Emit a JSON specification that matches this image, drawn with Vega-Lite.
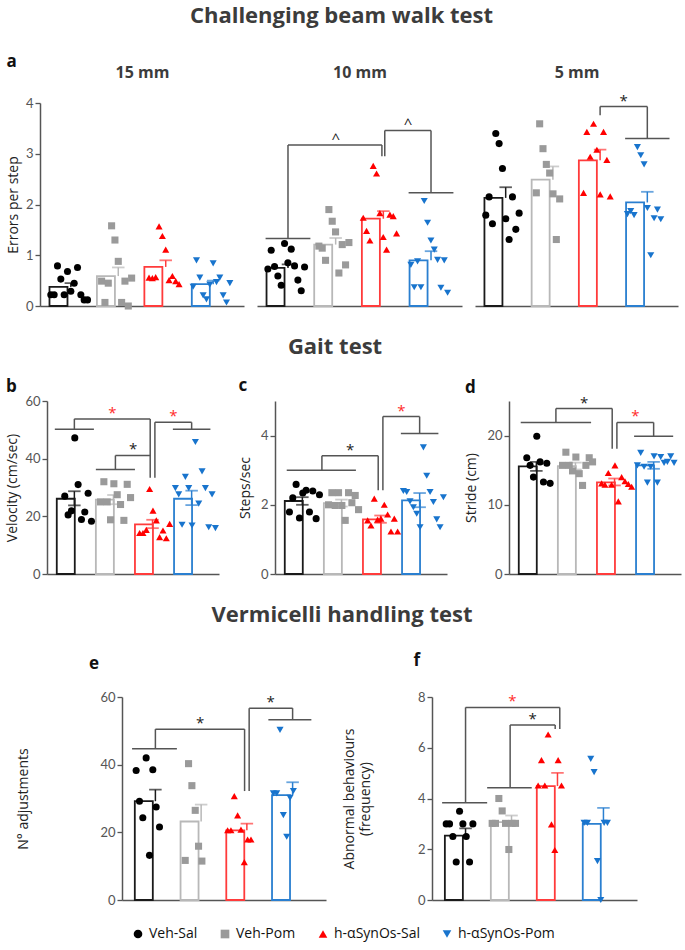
{
"$schema":"https://vega.github.io/schema/vega-lite/v6.json",
"padding":{"left":5,"right":2,"top":5,"bottom":5},
"datasets":{
"pts":[
{"p":"a15","g":"Veh-Sal","i":1,"v":0.22},{"p":"a15","g":"Veh-Sal","i":2,"v":0.22},{"p":"a15","g":"Veh-Sal","i":3,"v":0.79},{"p":"a15","g":"Veh-Sal","i":4,"v":0.53},{"p":"a15","g":"Veh-Sal","i":5,"v":0.22},{"p":"a15","g":"Veh-Sal","i":6,"v":0.68},{"p":"a15","g":"Veh-Sal","i":7,"v":0.29},{"p":"a15","g":"Veh-Sal","i":8,"v":0.45},{"p":"a15","g":"Veh-Sal","i":9,"v":0.76},{"p":"a15","g":"Veh-Sal","i":10,"v":0.22},{"p":"a15","g":"Veh-Sal","i":11,"v":0.12},{"p":"a15","g":"Veh-Sal","i":12,"v":0.12},
{"p":"a15","g":"Veh-Pom","i":2,"v":0.49},{"p":"a15","g":"Veh-Pom","i":3,"v":0.07},{"p":"a15","g":"Veh-Pom","i":4,"v":0.45},{"p":"a15","g":"Veh-Pom","i":5,"v":1.58},{"p":"a15","g":"Veh-Pom","i":6,"v":1.30},{"p":"a15","g":"Veh-Pom","i":7,"v":0.88},{"p":"a15","g":"Veh-Pom","i":8,"v":0.07},{"p":"a15","g":"Veh-Pom","i":9,"v":0.49},{"p":"a15","g":"Veh-Pom","i":10,"v":0.0},{"p":"a15","g":"Veh-Pom","i":11,"v":0.55},
{"p":"a15","g":"h-αSynOs-Sal","i":2,"v":0.56},{"p":"a15","g":"h-αSynOs-Sal","i":3,"v":0.55},{"p":"a15","g":"h-αSynOs-Sal","i":4,"v":0.57},{"p":"a15","g":"h-αSynOs-Sal","i":5,"v":1.57},{"p":"a15","g":"h-αSynOs-Sal","i":6,"v":1.38},{"p":"a15","g":"h-αSynOs-Sal","i":7,"v":1.11},{"p":"a15","g":"h-αSynOs-Sal","i":8,"v":0.51},{"p":"a15","g":"h-αSynOs-Sal","i":9,"v":0.59},{"p":"a15","g":"h-αSynOs-Sal","i":10,"v":0.49},{"p":"a15","g":"h-αSynOs-Sal","i":11,"v":0.43},
{"p":"a15","g":"h-αSynOs-Pom","i":1,"v":0.38},{"p":"a15","g":"h-αSynOs-Pom","i":2,"v":0.90},{"p":"a15","g":"h-αSynOs-Pom","i":3,"v":0.56},{"p":"a15","g":"h-αSynOs-Pom","i":4,"v":0.21},{"p":"a15","g":"h-αSynOs-Pom","i":5,"v":0.13},{"p":"a15","g":"h-αSynOs-Pom","i":6,"v":0.42},{"p":"a15","g":"h-αSynOs-Pom","i":7,"v":0.84},{"p":"a15","g":"h-αSynOs-Pom","i":8,"v":0.47},{"p":"a15","g":"h-αSynOs-Pom","i":9,"v":0.56},{"p":"a15","g":"h-αSynOs-Pom","i":10,"v":0.21},{"p":"a15","g":"h-αSynOs-Pom","i":11,"v":0.07},{"p":"a15","g":"h-αSynOs-Pom","i":12,"v":0.45},
{"p":"a10","g":"Veh-Sal","i":1,"v":0.73},{"p":"a10","g":"Veh-Sal","i":2,"v":1.10},{"p":"a10","g":"Veh-Sal","i":3,"v":0.78},{"p":"a10","g":"Veh-Sal","i":4,"v":0.59},{"p":"a10","g":"Veh-Sal","i":5,"v":0.41},{"p":"a10","g":"Veh-Sal","i":6,"v":1.23},{"p":"a10","g":"Veh-Sal","i":7,"v":0.85},{"p":"a10","g":"Veh-Sal","i":8,"v":1.12},{"p":"a10","g":"Veh-Sal","i":9,"v":0.79},{"p":"a10","g":"Veh-Sal","i":10,"v":0.51},{"p":"a10","g":"Veh-Sal","i":11,"v":0.30},{"p":"a10","g":"Veh-Sal","i":12,"v":0.77},
{"p":"a10","g":"Veh-Pom","i":2,"v":1.18},{"p":"a10","g":"Veh-Pom","i":3,"v":1.14},{"p":"a10","g":"Veh-Pom","i":4,"v":0.90},{"p":"a10","g":"Veh-Pom","i":5,"v":1.90},{"p":"a10","g":"Veh-Pom","i":6,"v":1.67},{"p":"a10","g":"Veh-Pom","i":7,"v":1.46},{"p":"a10","g":"Veh-Pom","i":8,"v":0.65},{"p":"a10","g":"Veh-Pom","i":9,"v":1.21},{"p":"a10","g":"Veh-Pom","i":10,"v":0.81},{"p":"a10","g":"Veh-Pom","i":11,"v":1.25},
{"p":"a10","g":"h-αSynOs-Sal","i":1,"v":1.74},{"p":"a10","g":"h-αSynOs-Sal","i":2,"v":1.48},{"p":"a10","g":"h-αSynOs-Sal","i":3,"v":1.29},{"p":"a10","g":"h-αSynOs-Sal","i":4,"v":2.76},{"p":"a10","g":"h-αSynOs-Sal","i":5,"v":2.61},{"p":"a10","g":"h-αSynOs-Sal","i":6,"v":1.83},{"p":"a10","g":"h-αSynOs-Sal","i":7,"v":1.36},{"p":"a10","g":"h-αSynOs-Sal","i":8,"v":1.11},{"p":"a10","g":"h-αSynOs-Sal","i":9,"v":1.80},{"p":"a10","g":"h-αSynOs-Sal","i":10,"v":1.77},{"p":"a10","g":"h-αSynOs-Sal","i":11,"v":1.43},
{"p":"a10","g":"h-αSynOs-Pom","i":1,"v":0.81},{"p":"a10","g":"h-αSynOs-Pom","i":2,"v":0.37},{"p":"a10","g":"h-αSynOs-Pom","i":3,"v":0.88},{"p":"a10","g":"h-αSynOs-Pom","i":4,"v":0.37},{"p":"a10","g":"h-αSynOs-Pom","i":5,"v":2.07},{"p":"a10","g":"h-αSynOs-Pom","i":6,"v":1.64},{"p":"a10","g":"h-αSynOs-Pom","i":7,"v":1.29},{"p":"a10","g":"h-αSynOs-Pom","i":8,"v":1.11},{"p":"a10","g":"h-αSynOs-Pom","i":9,"v":0.91},{"p":"a10","g":"h-αSynOs-Pom","i":10,"v":0.36},{"p":"a10","g":"h-αSynOs-Pom","i":11,"v":0.90},{"p":"a10","g":"h-αSynOs-Pom","i":12,"v":0.26},
{"p":"a5","g":"Veh-Sal","i":1,"v":1.79},{"p":"a5","g":"Veh-Sal","i":2,"v":2.15},{"p":"a5","g":"Veh-Sal","i":3,"v":1.62},{"p":"a5","g":"Veh-Sal","i":4,"v":3.40},{"p":"a5","g":"Veh-Sal","i":5,"v":3.20},{"p":"a5","g":"Veh-Sal","i":6,"v":2.71},{"p":"a5","g":"Veh-Sal","i":7,"v":1.72},{"p":"a5","g":"Veh-Sal","i":8,"v":1.31},{"p":"a5","g":"Veh-Sal","i":9,"v":2.15},{"p":"a5","g":"Veh-Sal","i":10,"v":1.51},{"p":"a5","g":"Veh-Sal","i":11,"v":1.83},
{"p":"a5","g":"Veh-Pom","i":2,"v":2.23},{"p":"a5","g":"Veh-Pom","i":3,"v":3.59},{"p":"a5","g":"Veh-Pom","i":4,"v":3.10},{"p":"a5","g":"Veh-Pom","i":5,"v":2.79},{"p":"a5","g":"Veh-Pom","i":6,"v":2.62},{"p":"a5","g":"Veh-Pom","i":7,"v":2.21},{"p":"a5","g":"Veh-Pom","i":8,"v":1.31},{"p":"a5","g":"Veh-Pom","i":9,"v":2.11},
{"p":"a5","g":"h-αSynOs-Sal","i":2,"v":2.23},{"p":"a5","g":"h-αSynOs-Sal","i":3,"v":3.43},{"p":"a5","g":"h-αSynOs-Sal","i":4,"v":2.94},{"p":"a5","g":"h-αSynOs-Sal","i":5,"v":3.59},{"p":"a5","g":"h-αSynOs-Sal","i":6,"v":3.08},{"p":"a5","g":"h-αSynOs-Sal","i":7,"v":2.20},{"p":"a5","g":"h-αSynOs-Sal","i":8,"v":3.43},{"p":"a5","g":"h-αSynOs-Sal","i":9,"v":2.88},{"p":"a5","g":"h-αSynOs-Sal","i":10,"v":2.16},
{"p":"a5","g":"h-αSynOs-Pom","i":1,"v":1.81},{"p":"a5","g":"h-αSynOs-Pom","i":2,"v":1.87},{"p":"a5","g":"h-αSynOs-Pom","i":3,"v":1.79},{"p":"a5","g":"h-αSynOs-Pom","i":4,"v":3.13},{"p":"a5","g":"h-αSynOs-Pom","i":5,"v":2.97},{"p":"a5","g":"h-αSynOs-Pom","i":6,"v":2.79},{"p":"a5","g":"h-αSynOs-Pom","i":7,"v":1.93},{"p":"a5","g":"h-αSynOs-Pom","i":8,"v":1.0},{"p":"a5","g":"h-αSynOs-Pom","i":9,"v":1.73},{"p":"a5","g":"h-αSynOs-Pom","i":10,"v":1.90},{"p":"a5","g":"h-αSynOs-Pom","i":11,"v":1.71},
{"p":"b","g":"Veh-Sal","i":3,"v":27.0},{"p":"b","g":"Veh-Sal","i":4,"v":20.5},{"p":"b","g":"Veh-Sal","i":5,"v":21.9},{"p":"b","g":"Veh-Sal","i":6,"v":47.2},{"p":"b","g":"Veh-Sal","i":7,"v":31.0},{"p":"b","g":"Veh-Sal","i":8,"v":18.9},{"p":"b","g":"Veh-Sal","i":9,"v":21.5},{"p":"b","g":"Veh-Sal","i":10,"v":28.0},{"p":"b","g":"Veh-Sal","i":11,"v":18.3},
{"p":"b","g":"Veh-Pom","i":2,"v":25.0},{"p":"b","g":"Veh-Pom","i":3,"v":32.0},{"p":"b","g":"Veh-Pom","i":4,"v":25.0},{"p":"b","g":"Veh-Pom","i":5,"v":18.8},{"p":"b","g":"Veh-Pom","i":6,"v":31.3},{"p":"b","g":"Veh-Pom","i":7,"v":27.5},{"p":"b","g":"Veh-Pom","i":8,"v":24.1},{"p":"b","g":"Veh-Pom","i":9,"v":18.6},{"p":"b","g":"Veh-Pom","i":10,"v":31.1},{"p":"b","g":"Veh-Pom","i":11,"v":26.5},
{"p":"b","g":"h-αSynOs-Sal","i":2,"v":14.2},{"p":"b","g":"h-αSynOs-Sal","i":3,"v":14.2},{"p":"b","g":"h-αSynOs-Sal","i":4,"v":15.3},{"p":"b","g":"h-αSynOs-Sal","i":5,"v":29.5},{"p":"b","g":"h-αSynOs-Sal","i":6,"v":22.0},{"p":"b","g":"h-αSynOs-Sal","i":7,"v":18.6},{"p":"b","g":"h-αSynOs-Sal","i":8,"v":12.8},{"p":"b","g":"h-αSynOs-Sal","i":9,"v":15.1},{"p":"b","g":"h-αSynOs-Sal","i":10,"v":12.4},{"p":"b","g":"h-αSynOs-Sal","i":11,"v":17.4},
{"p":"b","g":"h-αSynOs-Pom","i":1,"v":29.8},{"p":"b","g":"h-αSynOs-Pom","i":2,"v":27.6},{"p":"b","g":"h-αSynOs-Pom","i":3,"v":17.1},{"p":"b","g":"h-αSynOs-Pom","i":4,"v":33.7},{"p":"b","g":"h-αSynOs-Pom","i":5,"v":29.8},{"p":"b","g":"h-αSynOs-Pom","i":6,"v":16.8},{"p":"b","g":"h-αSynOs-Pom","i":7,"v":45.8},{"p":"b","g":"h-αSynOs-Pom","i":8,"v":24.4},{"p":"b","g":"h-αSynOs-Pom","i":9,"v":35.6},{"p":"b","g":"h-αSynOs-Pom","i":10,"v":29.8},{"p":"b","g":"h-αSynOs-Pom","i":11,"v":16.2},{"p":"b","g":"h-αSynOs-Pom","i":12,"v":27.6},{"p":"b","g":"h-αSynOs-Pom","i":13,"v":15.9},
{"p":"c","g":"Veh-Sal","i":2,"v":1.79},{"p":"c","g":"Veh-Sal","i":3,"v":2.20},{"p":"c","g":"Veh-Sal","i":4,"v":2.59},{"p":"c","g":"Veh-Sal","i":5,"v":1.62},{"p":"c","g":"Veh-Sal","i":6,"v":2.34},{"p":"c","g":"Veh-Sal","i":7,"v":2.42},{"p":"c","g":"Veh-Sal","i":8,"v":1.79},{"p":"c","g":"Veh-Sal","i":9,"v":2.40},{"p":"c","g":"Veh-Sal","i":10,"v":1.60},{"p":"c","g":"Veh-Sal","i":11,"v":2.29},
{"p":"c","g":"Veh-Pom","i":2,"v":2.00},{"p":"c","g":"Veh-Pom","i":3,"v":2.35},{"p":"c","g":"Veh-Pom","i":4,"v":1.98},{"p":"c","g":"Veh-Pom","i":5,"v":2.35},{"p":"c","g":"Veh-Pom","i":6,"v":1.98},{"p":"c","g":"Veh-Pom","i":7,"v":1.55},{"p":"c","g":"Veh-Pom","i":8,"v":2.35},{"p":"c","g":"Veh-Pom","i":9,"v":2.06},{"p":"c","g":"Veh-Pom","i":10,"v":2.27},{"p":"c","g":"Veh-Pom","i":11,"v":1.86},
{"p":"c","g":"h-αSynOs-Sal","i":2,"v":1.55},{"p":"c","g":"h-αSynOs-Sal","i":3,"v":1.40},{"p":"c","g":"h-αSynOs-Sal","i":4,"v":2.18},{"p":"c","g":"h-αSynOs-Sal","i":5,"v":1.57},{"p":"c","g":"h-αSynOs-Sal","i":6,"v":1.60},{"p":"c","g":"h-αSynOs-Sal","i":7,"v":2.00},{"p":"c","g":"h-αSynOs-Sal","i":8,"v":1.72},{"p":"c","g":"h-αSynOs-Sal","i":9,"v":1.23},{"p":"c","g":"h-αSynOs-Sal","i":10,"v":1.60},{"p":"c","g":"h-αSynOs-Sal","i":11,"v":1.23},
{"p":"c","g":"h-αSynOs-Pom","i":1,"v":2.40},{"p":"c","g":"h-αSynOs-Pom","i":2,"v":2.37},{"p":"c","g":"h-αSynOs-Pom","i":3,"v":2.10},{"p":"c","g":"h-αSynOs-Pom","i":4,"v":1.93},{"p":"c","g":"h-αSynOs-Pom","i":5,"v":1.74},{"p":"c","g":"h-αSynOs-Pom","i":6,"v":1.35},{"p":"c","g":"h-αSynOs-Pom","i":7,"v":3.66},{"p":"c","g":"h-αSynOs-Pom","i":8,"v":2.84},{"p":"c","g":"h-αSynOs-Pom","i":9,"v":2.37},{"p":"c","g":"h-αSynOs-Pom","i":10,"v":2.08},{"p":"c","g":"h-αSynOs-Pom","i":11,"v":1.58},{"p":"c","g":"h-αSynOs-Pom","i":12,"v":1.35},{"p":"c","g":"h-αSynOs-Pom","i":13,"v":2.22},
{"p":"d","g":"Veh-Sal","i":3,"v":16.8},{"p":"d","g":"Veh-Sal","i":4,"v":15.7},{"p":"d","g":"Veh-Sal","i":5,"v":14.0},{"p":"d","g":"Veh-Sal","i":6,"v":19.9},{"p":"d","g":"Veh-Sal","i":7,"v":16.2},{"p":"d","g":"Veh-Sal","i":8,"v":13.3},{"p":"d","g":"Veh-Sal","i":9,"v":16.0},{"p":"d","g":"Veh-Sal","i":10,"v":13.1},
{"p":"d","g":"Veh-Pom","i":2,"v":15.7},{"p":"d","g":"Veh-Pom","i":3,"v":17.6},{"p":"d","g":"Veh-Pom","i":4,"v":15.7},{"p":"d","g":"Veh-Pom","i":5,"v":14.9},{"p":"d","g":"Veh-Pom","i":6,"v":16.9},{"p":"d","g":"Veh-Pom","i":7,"v":14.5},{"p":"d","g":"Veh-Pom","i":8,"v":12.8},{"p":"d","g":"Veh-Pom","i":9,"v":15.7},{"p":"d","g":"Veh-Pom","i":10,"v":16.8},{"p":"d","g":"Veh-Pom","i":11,"v":16.2},
{"p":"d","g":"h-αSynOs-Sal","i":2,"v":13.1},{"p":"d","g":"h-αSynOs-Sal","i":3,"v":12.9},{"p":"d","g":"h-αSynOs-Sal","i":4,"v":14.6},{"p":"d","g":"h-αSynOs-Sal","i":5,"v":12.9},{"p":"d","g":"h-αSynOs-Sal","i":6,"v":15.7},{"p":"d","g":"h-αSynOs-Sal","i":7,"v":10.5},{"p":"d","g":"h-αSynOs-Sal","i":8,"v":14.0},{"p":"d","g":"h-αSynOs-Sal","i":9,"v":13.4},{"p":"d","g":"h-αSynOs-Sal","i":10,"v":13.0},{"p":"d","g":"h-αSynOs-Sal","i":11,"v":12.6},
{"p":"d","g":"h-αSynOs-Pom","i":1,"v":15.7},{"p":"d","g":"h-αSynOs-Pom","i":2,"v":17.5},{"p":"d","g":"h-αSynOs-Pom","i":3,"v":15.5},{"p":"d","g":"h-αSynOs-Pom","i":4,"v":13.2},{"p":"d","g":"h-αSynOs-Pom","i":5,"v":15.5},{"p":"d","g":"h-αSynOs-Pom","i":6,"v":17.0},{"p":"d","g":"h-αSynOs-Pom","i":7,"v":13.2},{"p":"d","g":"h-αSynOs-Pom","i":8,"v":16.9},{"p":"d","g":"h-αSynOs-Pom","i":9,"v":16.05},{"p":"d","g":"h-αSynOs-Pom","i":10,"v":16.2},{"p":"d","g":"h-αSynOs-Pom","i":11,"v":17.0},{"p":"d","g":"h-αSynOs-Pom","i":12,"v":16.05},
{"p":"e","g":"Veh-Sal","i":1,"v":38.3},{"p":"e","g":"Veh-Sal","i":2,"v":29.2},{"p":"e","g":"Veh-Sal","i":3,"v":24.3},{"p":"e","g":"Veh-Sal","i":4,"v":42.0},{"p":"e","g":"Veh-Sal","i":5,"v":13.2},{"p":"e","g":"Veh-Sal","i":6,"v":38.5},{"p":"e","g":"Veh-Sal","i":7,"v":27.5},{"p":"e","g":"Veh-Sal","i":8,"v":21.6},
{"p":"e","g":"Veh-Pom","i":2,"v":11.7},{"p":"e","g":"Veh-Pom","i":3,"v":40.3},{"p":"e","g":"Veh-Pom","i":4,"v":33.8},{"p":"e","g":"Veh-Pom","i":5,"v":26.5},{"p":"e","g":"Veh-Pom","i":6,"v":15.9},{"p":"e","g":"Veh-Pom","i":7,"v":11.5},
{"p":"e","g":"h-αSynOs-Sal","i":1,"v":20.6},{"p":"e","g":"h-αSynOs-Sal","i":2,"v":20.6},{"p":"e","g":"h-αSynOs-Sal","i":3,"v":30.7},{"p":"e","g":"h-αSynOs-Sal","i":4,"v":25.0},{"p":"e","g":"h-αSynOs-Sal","i":5,"v":20.8},{"p":"e","g":"h-αSynOs-Sal","i":6,"v":11.2},{"p":"e","g":"h-αSynOs-Sal","i":7,"v":17.9},{"p":"e","g":"h-αSynOs-Sal","i":8,"v":17.9},
{"p":"e","g":"h-αSynOs-Pom","i":1,"v":31.5},{"p":"e","g":"h-αSynOs-Pom","i":2,"v":31.5},{"p":"e","g":"h-αSynOs-Pom","i":3,"v":50.3},{"p":"e","g":"h-αSynOs-Pom","i":4,"v":25.1},{"p":"e","g":"h-αSynOs-Pom","i":5,"v":18.7},{"p":"e","g":"h-αSynOs-Pom","i":6,"v":30.2},{"p":"e","g":"h-αSynOs-Pom","i":7,"v":32.2},
{"p":"f","g":"Veh-Sal","i":1,"v":3.0},{"p":"f","g":"Veh-Sal","i":2,"v":3.0},{"p":"f","g":"Veh-Sal","i":3,"v":2.5},{"p":"f","g":"Veh-Sal","i":4,"v":1.5},{"p":"f","g":"Veh-Sal","i":5,"v":3.5},{"p":"f","g":"Veh-Sal","i":6,"v":3.0},{"p":"f","g":"Veh-Sal","i":7,"v":2.5},{"p":"f","g":"Veh-Sal","i":8,"v":1.5},{"p":"f","g":"Veh-Sal","i":9,"v":3.0},
{"p":"f","g":"Veh-Pom","i":1,"v":3.02},{"p":"f","g":"Veh-Pom","i":2,"v":3.02},{"p":"f","g":"Veh-Pom","i":3,"v":4.0},{"p":"f","g":"Veh-Pom","i":4,"v":3.51},{"p":"f","g":"Veh-Pom","i":5,"v":3.02},{"p":"f","g":"Veh-Pom","i":6,"v":1.99},{"p":"f","g":"Veh-Pom","i":7,"v":3.02},{"p":"f","g":"Veh-Pom","i":8,"v":3.02},
{"p":"f","g":"h-αSynOs-Sal","i":1,"v":4.51},{"p":"f","g":"h-αSynOs-Sal","i":2,"v":5.51},{"p":"f","g":"h-αSynOs-Sal","i":3,"v":4.51},{"p":"f","g":"h-αSynOs-Sal","i":4,"v":6.52},{"p":"f","g":"h-αSynOs-Sal","i":5,"v":2.98},{"p":"f","g":"h-αSynOs-Sal","i":6,"v":1.97},{"p":"f","g":"h-αSynOs-Sal","i":7,"v":5.51},{"p":"f","g":"h-αSynOs-Sal","i":8,"v":4.51},
{"p":"f","g":"h-αSynOs-Pom","i":1,"v":3.04},{"p":"f","g":"h-αSynOs-Pom","i":2,"v":3.04},{"p":"f","g":"h-αSynOs-Pom","i":3,"v":5.56},{"p":"f","g":"h-αSynOs-Pom","i":4,"v":5.04},{"p":"f","g":"h-αSynOs-Pom","i":5,"v":1.53},{"p":"f","g":"h-αSynOs-Pom","i":6,"v":0.0},{"p":"f","g":"h-αSynOs-Pom","i":7,"v":3.04},{"p":"f","g":"h-αSynOs-Pom","i":8,"v":3.04}
],
"bars":[
{"p":"a15","g":"Veh-Sal","m":0.375,"lo":0.375,"hi":0.45},{"p":"a15","g":"Veh-Pom","m":0.59,"lo":0.59,"hi":0.76},{"p":"a15","g":"h-αSynOs-Sal","m":0.77,"lo":0.77,"hi":0.90},{"p":"a15","g":"h-αSynOs-Pom","m":0.43,"lo":0.43,"hi":0.50},
{"p":"a10","g":"Veh-Sal","m":0.75,"lo":0.75,"hi":0.82},{"p":"a10","g":"Veh-Pom","m":1.21,"lo":1.21,"hi":1.34},{"p":"a10","g":"h-αSynOs-Sal","m":1.72,"lo":1.72,"hi":1.87},{"p":"a10","g":"h-αSynOs-Pom","m":0.90,"lo":0.90,"hi":1.08},
{"p":"a5","g":"Veh-Sal","m":2.13,"lo":2.13,"hi":2.34},{"p":"a5","g":"Veh-Pom","m":2.49,"lo":2.49,"hi":2.75},{"p":"a5","g":"h-αSynOs-Sal","m":2.87,"lo":2.87,"hi":3.08},{"p":"a5","g":"h-αSynOs-Pom","m":2.04,"lo":2.04,"hi":2.25},
{"p":"b","g":"Veh-Sal","m":26.1,"lo":23.8,"hi":28.7},{"p":"b","g":"Veh-Pom","m":25.8,"lo":24.2,"hi":27.4},{"p":"b","g":"h-αSynOs-Sal","m":17.2,"lo":15.9,"hi":18.8},{"p":"b","g":"h-αSynOs-Pom","m":26.1,"lo":23.9,"hi":28.9},
{"p":"c","g":"Veh-Sal","m":2.11,"lo":2.00,"hi":2.22},{"p":"c","g":"Veh-Pom","m":2.05,"lo":1.95,"hi":2.15},{"p":"c","g":"h-αSynOs-Sal","m":1.58,"lo":1.48,"hi":1.69},{"p":"c","g":"h-αSynOs-Pom","m":2.13,"lo":1.93,"hi":2.34},
{"p":"d","g":"Veh-Sal","m":15.55,"lo":14.9,"hi":16.2},{"p":"d","g":"Veh-Pom","m":15.6,"lo":15.1,"hi":16.1},{"p":"d","g":"h-αSynOs-Sal","m":13.25,"lo":12.8,"hi":13.8},{"p":"d","g":"h-αSynOs-Pom","m":15.7,"lo":15.2,"hi":16.2},
{"p":"e","g":"Veh-Sal","m":29.2,"lo":29.2,"hi":32.6},{"p":"e","g":"Veh-Pom","m":23.2,"lo":23.2,"hi":28.2},{"p":"e","g":"h-αSynOs-Sal","m":20.6,"lo":20.6,"hi":22.6},{"p":"e","g":"h-αSynOs-Pom","m":31.0,"lo":31.0,"hi":34.8},
{"p":"f","g":"Veh-Sal","m":2.54,"lo":2.54,"hi":2.82},{"p":"f","g":"Veh-Pom","m":3.07,"lo":3.07,"hi":3.33},{"p":"f","g":"h-αSynOs-Sal","m":4.49,"lo":4.49,"hi":5.01},{"p":"f","g":"h-αSynOs-Pom","m":3.0,"lo":3.0,"hi":3.63}
],
"br":[
{"p":"a10","x":0.53,"x2":1.47,"y":1.33,"y2":1.33},{"p":"a10","x":1,"x2":1,"y":1.33,"y2":3.17},{"p":"a10","x":1,"x2":2.97,"y":3.17,"y2":3.17},{"p":"a10","x":2.97,"x2":2.97,"y":3.17,"y2":2.95},
{"p":"a10","x":3.03,"x2":3.03,"y":2.95,"y2":3.46},{"p":"a10","x":3.03,"x2":4,"y":3.46,"y2":3.46},{"p":"a10","x":4,"x2":4,"y":3.46,"y2":2.23},{"p":"a10","x":3.53,"x2":4.47,"y":2.23,"y2":2.23},
{"p":"a5","x":3,"x2":3,"y":3.76,"y2":3.93},{"p":"a5","x":3,"x2":4,"y":3.93,"y2":3.93},{"p":"a5","x":4,"x2":4,"y":3.93,"y2":3.30},{"p":"a5","x":3.53,"x2":4.47,"y":3.30,"y2":3.30},
{"p":"b","x":0.5,"x2":1.5,"y":50.2,"y2":50.2},{"p":"b","x":1,"x2":1,"y":50.2,"y2":53.8},{"p":"b","x":1,"x2":2.94,"y":53.8,"y2":53.8},{"p":"b","x":2.94,"x2":2.94,"y":53.8,"y2":33.4},
{"p":"b","x":1.55,"x2":2.55,"y":36.2,"y2":36.2},{"p":"b","x":2.05,"x2":2.05,"y":36.2,"y2":41.1},{"p":"b","x":2.05,"x2":2.94,"y":41.1,"y2":41.1},
{"p":"b","x":3.06,"x2":3.06,"y":33.4,"y2":52.6},{"p":"b","x":3.06,"x2":4,"y":52.6,"y2":52.6},{"p":"b","x":4,"x2":4,"y":52.6,"y2":50.2},{"p":"b","x":3.52,"x2":4.48,"y":50.2,"y2":50.2},
{"p":"c","x":0.6,"x2":2.37,"y":3.0,"y2":3.0},{"p":"c","x":1.5,"x2":1.5,"y":3.0,"y2":3.42},{"p":"c","x":1.5,"x2":2.94,"y":3.42,"y2":3.42},{"p":"c","x":2.94,"x2":2.94,"y":3.42,"y2":2.42},
{"p":"c","x":3.06,"x2":3.06,"y":2.42,"y2":4.55},{"p":"c","x":3.06,"x2":4,"y":4.55,"y2":4.55},{"p":"c","x":4,"x2":4,"y":4.55,"y2":4.06},{"p":"c","x":3.52,"x2":4.48,"y":4.06,"y2":4.06},
{"p":"d","x":0.6,"x2":2.4,"y":21.9,"y2":21.9},{"p":"d","x":1.5,"x2":1.5,"y":21.9,"y2":23.9},{"p":"d","x":1.5,"x2":2.94,"y":23.9,"y2":23.9},{"p":"d","x":2.94,"x2":2.94,"y":23.9,"y2":18.1},
{"p":"d","x":3.06,"x2":3.06,"y":18.1,"y2":21.9},{"p":"d","x":3.06,"x2":4,"y":21.9,"y2":21.9},{"p":"d","x":4,"x2":4,"y":21.9,"y2":19.9},{"p":"d","x":3.5,"x2":4.5,"y":19.9,"y2":19.9},
{"p":"e","x":0.49,"x2":1.47,"y":44.7,"y2":44.7},{"p":"e","x":1,"x2":1,"y":44.7,"y2":50.5},{"p":"e","x":1,"x2":2.95,"y":50.5,"y2":50.5},{"p":"e","x":2.95,"x2":2.95,"y":50.5,"y2":32.2},
{"p":"e","x":3.05,"x2":3.05,"y":32.2,"y2":56.7},{"p":"e","x":3.05,"x2":4,"y":56.7,"y2":56.7},{"p":"e","x":4,"x2":4,"y":56.7,"y2":53.3},{"p":"e","x":3.47,"x2":4.41,"y":53.3,"y2":53.3},
{"p":"f","x":0.49,"x2":1.47,"y":3.83,"y2":3.83},{"p":"f","x":1,"x2":1,"y":3.83,"y2":7.59},{"p":"f","x":1,"x2":3.05,"y":7.59,"y2":7.59},{"p":"f","x":3.05,"x2":3.05,"y":7.59,"y2":6.74},
{"p":"f","x":1.47,"x2":2.44,"y":4.42,"y2":4.42},{"p":"f","x":1.97,"x2":1.97,"y":4.42,"y2":6.90},{"p":"f","x":1.97,"x2":2.95,"y":6.90,"y2":6.90},{"p":"f","x":2.95,"x2":2.95,"y":6.90,"y2":6.74}
],
"st":[
{"p":"a10","x":2.0,"y":3.17,"s":"^","k":"k1"},{"p":"a10","x":3.52,"y":3.46,"s":"^","k":"k1"},
{"p":"a5","x":3.5,"y":3.93,"s":"*","k":"k1"},
{"p":"b","x":1.97,"y":53.8,"s":"*","k":"k2"},{"p":"b","x":2.5,"y":41.1,"s":"*","k":"k1"},{"p":"b","x":3.53,"y":52.6,"s":"*","k":"k2"},
{"p":"c","x":2.22,"y":3.42,"s":"*","k":"k1"},{"p":"c","x":3.53,"y":4.55,"s":"*","k":"k2"},
{"p":"d","x":2.22,"y":23.9,"s":"*","k":"k1"},{"p":"d","x":3.53,"y":21.9,"s":"*","k":"k2"},
{"p":"e","x":1.98,"y":50.5,"s":"*","k":"k1"},{"p":"e","x":3.52,"y":56.7,"s":"*","k":"k1"},
{"p":"f","x":2.02,"y":7.59,"s":"*","k":"k2"},{"p":"f","x":2.46,"y":6.90,"s":"*","k":"k1"}
]
},
"vconcat":[
{"title":{"text":"Challenging beam walk test","fontSize":22,"fontWeight":"bold","color":"#3c3c3c","anchor":"middle","offset":25},
 "hconcat":[
 {"width":35,"height":1,"data":{"values":[]},"mark":{"type":"point","opacity":0}},
 {"title":{"text":"a","fontSize":17,"fontWeight":"bold","color":"#111","anchor":"start","offset":-7},
  "hconcat":[
  {"width":204,"height":203,
   "layer":[
    {"layer":[
     {"data":{"name":"bars"},"transform":[{"filter":"datum.p==='a15'"}],"mark":{"type":"bar","fill":"white","strokeWidth":1.8},
      "encoding":{"x":{"field":"g","type":"nominal","scale":{"domain":["Veh-Sal","Veh-Pom","h-αSynOs-Sal","h-αSynOs-Pom"],"paddingInner":0.1,"paddingOuter":0.2},"axis":{"labels":false,"ticks":false,"title":null}},
       "y":{"field":"m","type":"quantitative","scale":{"domain":[0,4],"nice":false},"axis":{"title":"Errors per step","values":[0,1,2,3,4],"format":"d","titlePadding":5}},
       "stroke":{"field":"g","type":"nominal","scale":{"domain":["Veh-Sal","Veh-Pom","h-αSynOs-Sal","h-αSynOs-Pom"],"range":["#1a1a1a","#b8b8b8","#ff3b3b","#2a7fd0"]}}}},
     {"data":{"name":"bars"},"transform":[{"filter":"datum.p==='a15'"}],"mark":{"type":"rule","strokeWidth":1.5},
      "encoding":{"x":{"field":"g","type":"nominal"},"y":{"field":"lo","type":"quantitative"},"y2":{"field":"hi"},"stroke":{"field":"g","type":"nominal"}}},
     {"data":{"name":"bars"},"transform":[{"filter":"datum.p==='a15'"}],"mark":{"type":"tick","filled":false,"thickness":0.3,"size":11,"strokeWidth":1.5},
      "encoding":{"x":{"field":"g","type":"nominal"},"y":{"field":"hi","type":"quantitative"},"stroke":{"field":"g","type":"nominal"}}},
     {"data":{"name":"pts"},"transform":[{"filter":"datum.p==='a15'"}],"mark":{"type":"point","filled":true,"size":50,"opacity":1},
      "encoding":{"x":{"field":"g","type":"nominal"},"xOffset":{"field":"i","type":"ordinal","scale":{"paddingOuter":0.4}},"y":{"field":"v","type":"quantitative"},
       "color":{"field":"g","type":"nominal","scale":{"domain":["Veh-Sal","Veh-Pom","h-αSynOs-Sal","h-αSynOs-Pom"],"range":["#000000","#9a9a9a","#ff0000","#1874cd"]},"legend":{"orient":"bottom","offset":20,"direction":"horizontal","title":null,"labelFontSize":14,"labelColor":"#111","symbolSize":75,"symbolStrokeWidth":0,"columnPadding":20}},
       "shape":{"field":"g","type":"nominal","scale":{"domain":["Veh-Sal","Veh-Pom","h-αSynOs-Sal","h-αSynOs-Pom"],"range":["circle","square","triangle-up","triangle-down"]}}}}
    ]},
    {"layer":[
     {"data":{"name":"br"},"transform":[{"filter":"datum.p==='a15'"}],"mark":{"type":"rule","color":"#555555","strokeWidth":1.5},
      "encoding":{"x":{"field":"x","type":"quantitative","scale":{"domain":[0.35,4.65],"nice":false,"zero":false},"axis":{"orient":"top","title":"15 mm","labels":false,"ticks":false,"domain":false,"titleFontSize":16,"titleFontWeight":"bold","titleColor":"#3c3c3c","titlePadding":23}},"x2":{"field":"x2"},"y":{"field":"y","type":"quantitative"},"y2":{"field":"y2"}}}
    ]}
   ],"resolve":{"scale":{"x":"independent"}}},
  {"width":205,"height":203,
   "layer":[
    {"layer":[
     {"data":{"name":"bars"},"transform":[{"filter":"datum.p==='a10'"}],"mark":{"type":"bar","fill":"white","strokeWidth":1.8},
      "encoding":{"x":{"field":"g","type":"nominal","scale":{"domain":["Veh-Sal","Veh-Pom","h-αSynOs-Sal","h-αSynOs-Pom"],"paddingInner":0.1,"paddingOuter":0.2},"axis":{"labels":false,"ticks":false,"title":null}},
       "y":{"field":"m","type":"quantitative","scale":{"domain":[0,4],"nice":false},"axis":null},
       "stroke":{"field":"g","type":"nominal"}}},
     {"data":{"name":"bars"},"transform":[{"filter":"datum.p==='a10'"}],"mark":{"type":"rule","strokeWidth":1.5},
      "encoding":{"x":{"field":"g","type":"nominal"},"y":{"field":"lo","type":"quantitative"},"y2":{"field":"hi"},"stroke":{"field":"g","type":"nominal"}}},
     {"data":{"name":"bars"},"transform":[{"filter":"datum.p==='a10'"}],"mark":{"type":"tick","filled":false,"thickness":0.3,"size":11,"strokeWidth":1.5},
      "encoding":{"x":{"field":"g","type":"nominal"},"y":{"field":"hi","type":"quantitative"},"stroke":{"field":"g","type":"nominal"}}},
     {"data":{"name":"pts"},"transform":[{"filter":"datum.p==='a10'"}],"mark":{"type":"point","filled":true,"size":50,"opacity":1},
      "encoding":{"x":{"field":"g","type":"nominal"},"xOffset":{"field":"i","type":"ordinal","scale":{"paddingOuter":0.4}},"y":{"field":"v","type":"quantitative"},
       "color":{"field":"g","type":"nominal"},"shape":{"field":"g","type":"nominal"}}}
    ]},
    {"layer":[
     {"data":{"name":"br"},"transform":[{"filter":"datum.p==='a10'"}],"mark":{"type":"rule","color":"#555555","strokeWidth":1.5},
      "encoding":{"x":{"field":"x","type":"quantitative","scale":{"domain":[0.35,4.65],"nice":false,"zero":false},"axis":{"orient":"top","title":"10 mm","labels":false,"ticks":false,"domain":false,"titleFontSize":16,"titleFontWeight":"bold","titleColor":"#3c3c3c","titlePadding":23}},"x2":{"field":"x2"},"y":{"field":"y","type":"quantitative"},"y2":{"field":"y2"}}},
     {"data":{"name":"st"},"transform":[{"filter":"datum.p==='a10'"}],"mark":{"type":"text","baseline":"alphabetic","dy":-1,"fontSize":15},
      "encoding":{"x":{"field":"x","type":"quantitative"},"y":{"field":"y","type":"quantitative"},"text":{"field":"s"},"fill":{"field":"k","type":"nominal","scale":{"domain":["k1","k2"],"range":["#222222","#ff2a2a"]},"legend":null}}}
    ]}
   ],"resolve":{"scale":{"x":"independent"}}},
  {"width":203,"height":203,
   "layer":[
    {"layer":[
     {"data":{"name":"bars"},"transform":[{"filter":"datum.p==='a5'"}],"mark":{"type":"bar","fill":"white","strokeWidth":1.8},
      "encoding":{"x":{"field":"g","type":"nominal","scale":{"domain":["Veh-Sal","Veh-Pom","h-αSynOs-Sal","h-αSynOs-Pom"],"paddingInner":0.1,"paddingOuter":0.2},"axis":{"labels":false,"ticks":false,"title":null}},
       "y":{"field":"m","type":"quantitative","scale":{"domain":[0,4],"nice":false},"axis":null},
       "stroke":{"field":"g","type":"nominal"}}},
     {"data":{"name":"bars"},"transform":[{"filter":"datum.p==='a5'"}],"mark":{"type":"rule","strokeWidth":1.5},
      "encoding":{"x":{"field":"g","type":"nominal"},"y":{"field":"lo","type":"quantitative"},"y2":{"field":"hi"},"stroke":{"field":"g","type":"nominal"}}},
     {"data":{"name":"bars"},"transform":[{"filter":"datum.p==='a5'"}],"mark":{"type":"tick","filled":false,"thickness":0.3,"size":11,"strokeWidth":1.5},
      "encoding":{"x":{"field":"g","type":"nominal"},"y":{"field":"hi","type":"quantitative"},"stroke":{"field":"g","type":"nominal"}}},
     {"data":{"name":"pts"},"transform":[{"filter":"datum.p==='a5'"}],"mark":{"type":"point","filled":true,"size":50,"opacity":1},
      "encoding":{"x":{"field":"g","type":"nominal"},"xOffset":{"field":"i","type":"ordinal","scale":{"paddingOuter":0.4}},"y":{"field":"v","type":"quantitative"},
       "color":{"field":"g","type":"nominal"},"shape":{"field":"g","type":"nominal"}}}
    ]},
    {"layer":[
     {"data":{"name":"br"},"transform":[{"filter":"datum.p==='a5'"}],"mark":{"type":"rule","color":"#555555","strokeWidth":1.5},
      "encoding":{"x":{"field":"x","type":"quantitative","scale":{"domain":[0.35,4.65],"nice":false,"zero":false},"axis":{"orient":"top","title":"5 mm","labels":false,"ticks":false,"domain":false,"titleFontSize":16,"titleFontWeight":"bold","titleColor":"#3c3c3c","titlePadding":23}},"x2":{"field":"x2"},"y":{"field":"y","type":"quantitative"},"y2":{"field":"y2"}}},
     {"data":{"name":"st"},"transform":[{"filter":"datum.p==='a5'"}],"mark":{"type":"text","baseline":"alphabetic","dy":-1,"fontSize":15},
      "encoding":{"x":{"field":"x","type":"quantitative"},"y":{"field":"y","type":"quantitative"},"text":{"field":"s"},"fill":{"field":"k","type":"nominal","legend":null}}}
    ]}
   ],"resolve":{"scale":{"x":"independent"}}}
  ],"spacing":13,"bounds":"flush"}
 ],"spacing":0,"bounds":"flush"},
{"title":{"text":"Gait test","fontSize":22,"fontWeight":"bold","color":"#3c3c3c","anchor":"middle","offset":18,"dx":-8},
 "hconcat":[
 {"width":42,"height":1,"data":{"values":[]},"mark":{"type":"point","opacity":0}},
 {"hconcat":[
  {"width":172,"height":173,"title":{"text":"b","fontSize":17,"fontWeight":"bold","color":"#111","anchor":"start","offset":-1},
   "layer":[
    {"layer":[
     {"data":{"name":"bars"},"transform":[{"filter":"datum.p==='b'"}],"mark":{"type":"bar","fill":"white","strokeWidth":1.8},
      "encoding":{"x":{"field":"g","type":"nominal","scale":{"domain":["Veh-Sal","Veh-Pom","h-αSynOs-Sal","h-αSynOs-Pom"],"paddingInner":0.1,"paddingOuter":0.25},"axis":{"labels":false,"ticks":false,"title":null}},
       "y":{"field":"m","type":"quantitative","scale":{"domain":[0,60],"nice":false},"axis":{"title":"Velocity (cm/sec)","values":[0,20,40,60],"titlePadding":5}},
       "stroke":{"field":"g","type":"nominal"}}},
     {"data":{"name":"bars"},"transform":[{"filter":"datum.p==='b'"}],"mark":{"type":"rule","strokeWidth":1.5},
      "encoding":{"x":{"field":"g","type":"nominal"},"y":{"field":"lo","type":"quantitative"},"y2":{"field":"hi"},"stroke":{"field":"g","type":"nominal"}}},
     {"data":{"name":"bars"},"transform":[{"filter":"datum.p==='b'"}],"mark":{"type":"tick","filled":false,"thickness":0.3,"size":11,"strokeWidth":1.5},
      "encoding":{"x":{"field":"g","type":"nominal"},"y":{"field":"hi","type":"quantitative"},"stroke":{"field":"g","type":"nominal"}}},
     {"data":{"name":"bars"},"transform":[{"filter":"datum.p==='b'"}],"mark":{"type":"tick","filled":false,"thickness":0.3,"size":11,"strokeWidth":1.5},
      "encoding":{"x":{"field":"g","type":"nominal"},"y":{"field":"lo","type":"quantitative"},"stroke":{"field":"g","type":"nominal"}}},
     {"data":{"name":"pts"},"transform":[{"filter":"datum.p==='b'"}],"mark":{"type":"point","filled":true,"size":50,"opacity":1},
      "encoding":{"x":{"field":"g","type":"nominal"},"xOffset":{"field":"i","type":"ordinal","scale":{"paddingOuter":0.4}},"y":{"field":"v","type":"quantitative"},
       "color":{"field":"g","type":"nominal"},"shape":{"field":"g","type":"nominal"}}}
    ]},
    {"layer":[
     {"data":{"name":"br"},"transform":[{"filter":"datum.p==='b'"}],"mark":{"type":"rule","color":"#555555","strokeWidth":1.5},
      "encoding":{"x":{"field":"x","type":"quantitative","scale":{"domain":[0.3,4.7],"nice":false,"zero":false},"axis":null},"x2":{"field":"x2"},"y":{"field":"y","type":"quantitative"},"y2":{"field":"y2"}}},
     {"data":{"name":"st"},"transform":[{"filter":"datum.p==='b'"}],"mark":{"type":"text","baseline":"alphabetic","dy":-1,"fontSize":15},
      "encoding":{"x":{"field":"x","type":"quantitative"},"y":{"field":"y","type":"quantitative"},"text":{"field":"s"},"fill":{"field":"k","type":"nominal","legend":null}}}
    ]}
   ],"resolve":{"scale":{"x":"independent"}}},
  {"hconcat":[
  {"width":172,"height":173,"title":{"text":"c","fontSize":17,"fontWeight":"bold","color":"#111","anchor":"start","offset":6},
   "layer":[
    {"layer":[
     {"data":{"name":"bars"},"transform":[{"filter":"datum.p==='c'"}],"mark":{"type":"bar","fill":"white","strokeWidth":1.8},
      "encoding":{"x":{"field":"g","type":"nominal","scale":{"domain":["Veh-Sal","Veh-Pom","h-αSynOs-Sal","h-αSynOs-Pom"],"paddingInner":0.1,"paddingOuter":0.25},"axis":{"labels":false,"ticks":false,"title":null}},
       "y":{"field":"m","type":"quantitative","scale":{"domain":[0,5],"nice":false},"axis":{"title":"Steps/sec","values":[0,1,2,3,4,5],"titlePadding":8}},
       "stroke":{"field":"g","type":"nominal"}}},
     {"data":{"name":"bars"},"transform":[{"filter":"datum.p==='c'"}],"mark":{"type":"rule","strokeWidth":1.5},
      "encoding":{"x":{"field":"g","type":"nominal"},"y":{"field":"lo","type":"quantitative"},"y2":{"field":"hi"},"stroke":{"field":"g","type":"nominal"}}},
     {"data":{"name":"bars"},"transform":[{"filter":"datum.p==='c'"}],"mark":{"type":"tick","filled":false,"thickness":0.3,"size":11,"strokeWidth":1.5},
      "encoding":{"x":{"field":"g","type":"nominal"},"y":{"field":"hi","type":"quantitative"},"stroke":{"field":"g","type":"nominal"}}},
     {"data":{"name":"bars"},"transform":[{"filter":"datum.p==='c'"}],"mark":{"type":"tick","filled":false,"thickness":0.3,"size":11,"strokeWidth":1.5},
      "encoding":{"x":{"field":"g","type":"nominal"},"y":{"field":"lo","type":"quantitative"},"stroke":{"field":"g","type":"nominal"}}},
     {"data":{"name":"pts"},"transform":[{"filter":"datum.p==='c'"}],"mark":{"type":"point","filled":true,"size":50,"opacity":1},
      "encoding":{"x":{"field":"g","type":"nominal"},"xOffset":{"field":"i","type":"ordinal","scale":{"paddingOuter":0.4}},"y":{"field":"v","type":"quantitative"},
       "color":{"field":"g","type":"nominal"},"shape":{"field":"g","type":"nominal"}}}
    ]},
    {"layer":[
     {"data":{"name":"br"},"transform":[{"filter":"datum.p==='c'"}],"mark":{"type":"rule","color":"#555555","strokeWidth":1.5},
      "encoding":{"x":{"field":"x","type":"quantitative","scale":{"domain":[0.3,4.7],"nice":false,"zero":false},"axis":null},"x2":{"field":"x2"},"y":{"field":"y","type":"quantitative"},"y2":{"field":"y2"}}},
     {"data":{"name":"st"},"transform":[{"filter":"datum.p==='c'"}],"mark":{"type":"text","baseline":"alphabetic","dy":-1,"fontSize":15},
      "encoding":{"x":{"field":"x","type":"quantitative"},"y":{"field":"y","type":"quantitative"},"text":{"field":"s"},"fill":{"field":"k","type":"nominal","legend":null}}}
    ]}
   ],"resolve":{"scale":{"x":"independent"}}},
  {"width":172,"height":173,"title":{"text":"d","fontSize":17,"fontWeight":"bold","color":"#111","anchor":"start","offset":-1},
   "layer":[
    {"layer":[
     {"data":{"name":"bars"},"transform":[{"filter":"datum.p==='d'"}],"mark":{"type":"bar","fill":"white","strokeWidth":1.8},
      "encoding":{"x":{"field":"g","type":"nominal","scale":{"domain":["Veh-Sal","Veh-Pom","h-αSynOs-Sal","h-αSynOs-Pom"],"paddingInner":0.1,"paddingOuter":0.25},"axis":{"labels":false,"ticks":false,"title":null}},
       "y":{"field":"m","type":"quantitative","scale":{"domain":[0,25],"nice":false},"axis":{"title":"Stride (cm)","values":[0,5,10,15,20,25],"titlePadding":8}},
       "stroke":{"field":"g","type":"nominal"}}},
     {"data":{"name":"bars"},"transform":[{"filter":"datum.p==='d'"}],"mark":{"type":"rule","strokeWidth":1.5},
      "encoding":{"x":{"field":"g","type":"nominal"},"y":{"field":"lo","type":"quantitative"},"y2":{"field":"hi"},"stroke":{"field":"g","type":"nominal"}}},
     {"data":{"name":"bars"},"transform":[{"filter":"datum.p==='d'"}],"mark":{"type":"tick","filled":false,"thickness":0.3,"size":11,"strokeWidth":1.5},
      "encoding":{"x":{"field":"g","type":"nominal"},"y":{"field":"hi","type":"quantitative"},"stroke":{"field":"g","type":"nominal"}}},
     {"data":{"name":"bars"},"transform":[{"filter":"datum.p==='d'"}],"mark":{"type":"tick","filled":false,"thickness":0.3,"size":11,"strokeWidth":1.5},
      "encoding":{"x":{"field":"g","type":"nominal"},"y":{"field":"lo","type":"quantitative"},"stroke":{"field":"g","type":"nominal"}}},
     {"data":{"name":"pts"},"transform":[{"filter":"datum.p==='d'"}],"mark":{"type":"point","filled":true,"size":50,"opacity":1},
      "encoding":{"x":{"field":"g","type":"nominal"},"xOffset":{"field":"i","type":"ordinal","scale":{"paddingOuter":0.4}},"y":{"field":"v","type":"quantitative"},
       "color":{"field":"g","type":"nominal"},"shape":{"field":"g","type":"nominal"}}}
    ]},
    {"layer":[
     {"data":{"name":"br"},"transform":[{"filter":"datum.p==='d'"}],"mark":{"type":"rule","color":"#555555","strokeWidth":1.5},
      "encoding":{"x":{"field":"x","type":"quantitative","scale":{"domain":[0.3,4.7],"nice":false,"zero":false},"axis":null},"x2":{"field":"x2"},"y":{"field":"y","type":"quantitative"},"y2":{"field":"y2"}}},
     {"data":{"name":"st"},"transform":[{"filter":"datum.p==='d'"}],"mark":{"type":"text","baseline":"alphabetic","dy":-1,"fontSize":15},
      "encoding":{"x":{"field":"x","type":"quantitative"},"y":{"field":"y","type":"quantitative"},"text":{"field":"s"},"fill":{"field":"k","type":"nominal","legend":null}}}
    ]}
   ],"resolve":{"scale":{"x":"independent"}}}
  ],"spacing":62,"bounds":"flush"}
 ],"spacing":56,"bounds":"flush"}
 ],"spacing":0,"bounds":"flush"},
{"title":{"text":"Vermicelli handling  test","fontSize":22,"fontWeight":"bold","color":"#3c3c3c","anchor":"middle","offset":25,"dx":21},
 "hconcat":[
 {"width":117,"height":1,"data":{"values":[]},"mark":{"type":"point","opacity":0}},
 {"hconcat":[
  {"width":204,"height":203,"title":{"text":"e","fontSize":17,"fontWeight":"bold","color":"#111","anchor":"start","offset":18,"dx":72},
   "layer":[
    {"layer":[
     {"data":{"name":"bars"},"transform":[{"filter":"datum.p==='e'"}],"mark":{"type":"bar","fill":"white","strokeWidth":1.8},
      "encoding":{"x":{"field":"g","type":"nominal","scale":{"domain":["Veh-Sal","Veh-Pom","h-αSynOs-Sal","h-αSynOs-Pom"],"paddingInner":0.1,"paddingOuter":0.28},"axis":{"labels":false,"ticks":false,"title":null}},
       "y":{"field":"m","type":"quantitative","scale":{"domain":[0,60],"nice":false},"axis":{"title":"N° adjustments","values":[0,20,40,60],"titlePadding":69}},
       "stroke":{"field":"g","type":"nominal"}}},
     {"data":{"name":"bars"},"transform":[{"filter":"datum.p==='e'"}],"mark":{"type":"rule","strokeWidth":1.5},
      "encoding":{"x":{"field":"g","type":"nominal"},"y":{"field":"lo","type":"quantitative"},"y2":{"field":"hi"},"stroke":{"field":"g","type":"nominal"}}},
     {"data":{"name":"bars"},"transform":[{"filter":"datum.p==='e'"}],"mark":{"type":"tick","filled":false,"thickness":0.3,"size":11,"strokeWidth":1.5},
      "encoding":{"x":{"field":"g","type":"nominal"},"y":{"field":"hi","type":"quantitative"},"stroke":{"field":"g","type":"nominal"}}},
     {"data":{"name":"pts"},"transform":[{"filter":"datum.p==='e'"}],"mark":{"type":"point","filled":true,"size":50,"opacity":1},
      "encoding":{"x":{"field":"g","type":"nominal"},"xOffset":{"field":"i","type":"ordinal","scale":{"paddingOuter":0.6}},"y":{"field":"v","type":"quantitative"},
       "color":{"field":"g","type":"nominal"},"shape":{"field":"g","type":"nominal"}}}
    ]},
    {"layer":[
     {"data":{"name":"br"},"transform":[{"filter":"datum.p==='e'"}],"mark":{"type":"rule","color":"#555555","strokeWidth":1.5},
      "encoding":{"x":{"field":"x","type":"quantitative","scale":{"domain":[0.27,4.73],"nice":false,"zero":false},"axis":null},"x2":{"field":"x2"},"y":{"field":"y","type":"quantitative"},"y2":{"field":"y2"}}},
     {"data":{"name":"st"},"transform":[{"filter":"datum.p==='e'"}],"mark":{"type":"text","baseline":"alphabetic","dy":-1,"fontSize":15},
      "encoding":{"x":{"field":"x","type":"quantitative"},"y":{"field":"y","type":"quantitative"},"text":{"field":"s"},"fill":{"field":"k","type":"nominal","legend":null}}}
    ]}
   ],"resolve":{"scale":{"x":"independent"}}},
  {"width":205,"height":203,"title":{"text":"f","fontSize":17,"fontWeight":"bold","color":"#111","anchor":"start","offset":21,"dx":71},
   "layer":[
    {"layer":[
     {"data":{"name":"bars"},"transform":[{"filter":"datum.p==='f'"}],"mark":{"type":"bar","fill":"white","strokeWidth":1.8},
      "encoding":{"x":{"field":"g","type":"nominal","scale":{"domain":["Veh-Sal","Veh-Pom","h-αSynOs-Sal","h-αSynOs-Pom"],"paddingInner":0.1,"paddingOuter":0.28},"axis":{"labels":false,"ticks":false,"title":null}},
       "y":{"field":"m","type":"quantitative","scale":{"domain":[0,8],"nice":false},"axis":{"title":["Abnormal behaviours","(frequency)"],"values":[0,2,4,6,8],"titlePadding":45}},
       "stroke":{"field":"g","type":"nominal"}}},
     {"data":{"name":"bars"},"transform":[{"filter":"datum.p==='f'"}],"mark":{"type":"rule","strokeWidth":1.5},
      "encoding":{"x":{"field":"g","type":"nominal"},"y":{"field":"lo","type":"quantitative"},"y2":{"field":"hi"},"stroke":{"field":"g","type":"nominal"}}},
     {"data":{"name":"bars"},"transform":[{"filter":"datum.p==='f'"}],"mark":{"type":"tick","filled":false,"thickness":0.3,"size":11,"strokeWidth":1.5},
      "encoding":{"x":{"field":"g","type":"nominal"},"y":{"field":"hi","type":"quantitative"},"stroke":{"field":"g","type":"nominal"}}},
     {"data":{"name":"pts"},"transform":[{"filter":"datum.p==='f'"}],"mark":{"type":"point","filled":true,"size":50,"opacity":1},
      "encoding":{"x":{"field":"g","type":"nominal"},"xOffset":{"field":"i","type":"ordinal","scale":{"paddingOuter":0.6}},"y":{"field":"v","type":"quantitative"},
       "color":{"field":"g","type":"nominal"},"shape":{"field":"g","type":"nominal"}}}
    ]},
    {"layer":[
     {"data":{"name":"br"},"transform":[{"filter":"datum.p==='f'"}],"mark":{"type":"rule","color":"#555555","strokeWidth":1.5},
      "encoding":{"x":{"field":"x","type":"quantitative","scale":{"domain":[0.27,4.73],"nice":false,"zero":false},"axis":null},"x2":{"field":"x2"},"y":{"field":"y","type":"quantitative"},"y2":{"field":"y2"}}},
     {"data":{"name":"st"},"transform":[{"filter":"datum.p==='f'"}],"mark":{"type":"text","baseline":"alphabetic","dy":-1,"fontSize":15},
      "encoding":{"x":{"field":"x","type":"quantitative"},"y":{"field":"y","type":"quantitative"},"text":{"field":"s"},"fill":{"field":"k","type":"nominal","legend":null}}}
    ]}
   ],"resolve":{"scale":{"x":"independent"}}}
 ],"spacing":106,"bounds":"flush"}
 ],"spacing":0,"bounds":"flush"}
],
"spacing":23,
"config":{
 "view":{"stroke":null},
 "font":"Open Sans",
 "axis":{"grid":false,"domainColor":"#555555","domainWidth":1.5,"tickColor":"#555555","tickWidth":1.3,"tickSize":5,"labelColor":"#555555","labelFontSize":13,"labelFont":"Lato","titleFont":"Open Sans","titleFontSize":14,"titleFontWeight":"normal","titleColor":"#222222"},
 "legend":{"labelFont":"Open Sans","layout":{"bottom":{"anchor":"middle"}}}
}
}
